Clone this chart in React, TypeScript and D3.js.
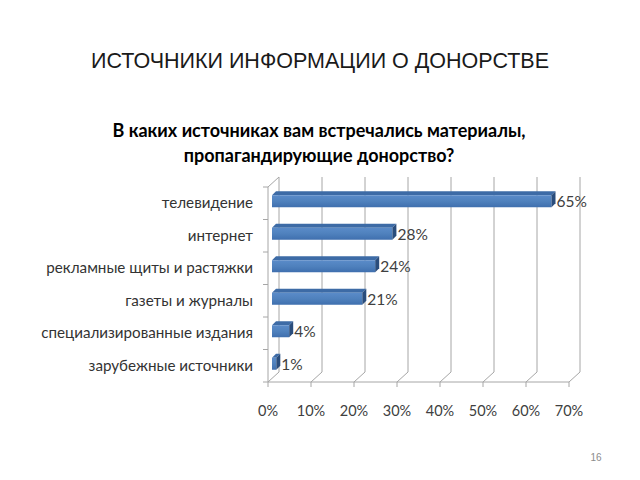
import React from "react";
import * as d3 from "d3";

const categories = [
  "телевидение",
  "интернет",
  "рекламные щиты и растяжки",
  "газеты и журналы",
  "специализированные издания",
  "зарубежные источники",
];
const values = [65, 28, 24, 21, 4, 1];
const ticks = [0, 10, 20, 30, 40, 50, 60, 70];
const slideTitle = "ИСТОЧНИКИ ИНФОРМАЦИИ О ДОНОРСТВЕ";
const chartTitle = [
  "В каких источниках вам встречались материалы,",
  "пропагандирующие донорство?",
];
const pageNumber = "16";

export default function App() {
  const W = 640;
  const H = 480;
  const x0 = 268; // front-left corner x
  const yFloor = 382; // front floor y
  const yTop = 187; // front top
  const dx = 11;
  const dy = -10;
  const x = d3.scaleLinear().domain([0, 70]).range([0, 301]);
  const y = d3
    .scaleBand<string>()
    .domain(categories)
    .range([yTop, yFloor])
    .paddingInner(0)
    .paddingOuter(0);
  const grid = "#a6a6a6";
  const labelFont = "Lato, 'Open Sans', sans-serif";
  const barX0 = 272;
  const faceH = 12;
  const bd = 4; // bar depth offset

  return (
    <svg
      width={W}
      height={H}
      style={{ position: "absolute", left: 0, top: 0, background: "#fff" }}
    >
      <rect width={W} height={H} fill="#fff" />
      <text
        x={320}
        y={68}
        textAnchor="middle"
        fontFamily="'Liberation Sans', Arial, sans-serif"
        fontSize={21.5}
        fill="#1a1a1a"
      >
        {slideTitle}
      </text>
      {chartTitle.map((t, i) => (
        <text
          key={i}
          x={319}
          y={137 + i * 25}
          textAnchor="middle"
          fontFamily={labelFont}
          fontWeight="bold"
          fontSize={18}
          fill="#000"
        >
          {t}
        </text>
      ))}

      {/* back wall gridlines and floor diagonals */}
      {ticks.map((t) => {
        const fx = x0 + x(t);
        return (
          <g key={t}>
            <line
              x1={fx + dx}
              x2={fx + dx}
              y1={yTop + dy}
              y2={yFloor + dy}
              stroke={grid}
              strokeWidth={1}
            />
            <line
              x1={fx + dx}
              y1={yFloor + dy}
              x2={fx}
              y2={yFloor}
              stroke={grid}
              strokeWidth={1}
            />
            <line
              x1={fx}
              x2={fx}
              y1={yFloor}
              y2={yFloor + 5}
              stroke={grid}
            />
            <text
              x={fx}
              y={416}
              textAnchor="middle"
              fontFamily={labelFont}
              fontSize={14.5}
              fill="#404040"
            >
              {t}%
            </text>
          </g>
        );
      })}
      {/* left wall */}
      <line x1={x0} x2={x0} y1={yTop} y2={yFloor} stroke={grid} />
      <line x1={x0} y1={yTop} x2={x0 + dx} y2={yTop + dy} stroke={grid} />
      {/* floor front line */}
      <line
        x1={x0 - 5}
        x2={x0 + x(70)}
        y1={yFloor}
        y2={yFloor}
        stroke={grid}
      />
      {/* category ticks */}
      {categories.map((c) => (
        <line
          key={c + "t"}
          x1={x0 - 5}
          x2={x0}
          y1={y(c)!}
          y2={y(c)!}
          stroke={grid}
        />
      ))}

      {/* bars */}
      {categories.map((c, i) => {
        const v = values[i];
        const cy = y(c)! + y.bandwidth() / 2 - 2;
        const top = cy - faceH / 2;
        const bot = cy + faceH / 2;
        const xr = barX0 + x(v);
        const topFace = `M${barX0},${top} L${barX0 + bd},${top - bd} L${xr + bd},${top - bd} L${xr},${top} Z`;
        const sideFace = `M${xr},${top} L${xr + bd},${top - bd} L${xr + bd},${bot - bd} L${xr},${bot} Z`;
        return (
          <g key={c}>
            <path d={topFace} fill="#3d6ba6" />
            <rect
              x={barX0}
              y={top}
              width={x(v)}
              height={faceH}
              fill="url(#barGrad)"
            />
            <path d={sideFace} fill="#2a4d7c" />
            <text
              x={xr + bd + 1}
              y={cy + 6}
              fontFamily={labelFont}
              fontSize={15.5}
              fill="#404040"
            >
              {v}%
            </text>
            <text
              x={253}
              y={y(c)! + y.bandwidth() / 2 + 5}
              textAnchor="end"
              fontFamily={labelFont}
              fontSize={15.2}
              fill="#333"
            >
              {c}
            </text>
          </g>
        );
      })}
      <defs>
        <linearGradient id="barGrad" x1="0" y1="0" x2="0" y2="1">
          <stop offset="0" stopColor="#5a8bc9" />
          <stop offset="0.5" stopColor="#4f81bd" />
          <stop offset="1" stopColor="#3f6fae" />
        </linearGradient>
      </defs>

      <text
        x={596}
        y={461}
        textAnchor="middle"
        fontFamily="'Liberation Sans', Arial, sans-serif"
        fontSize={10}
        fill="#8c8c8c"
      >
        {pageNumber}
      </text>
    </svg>
  );
}
